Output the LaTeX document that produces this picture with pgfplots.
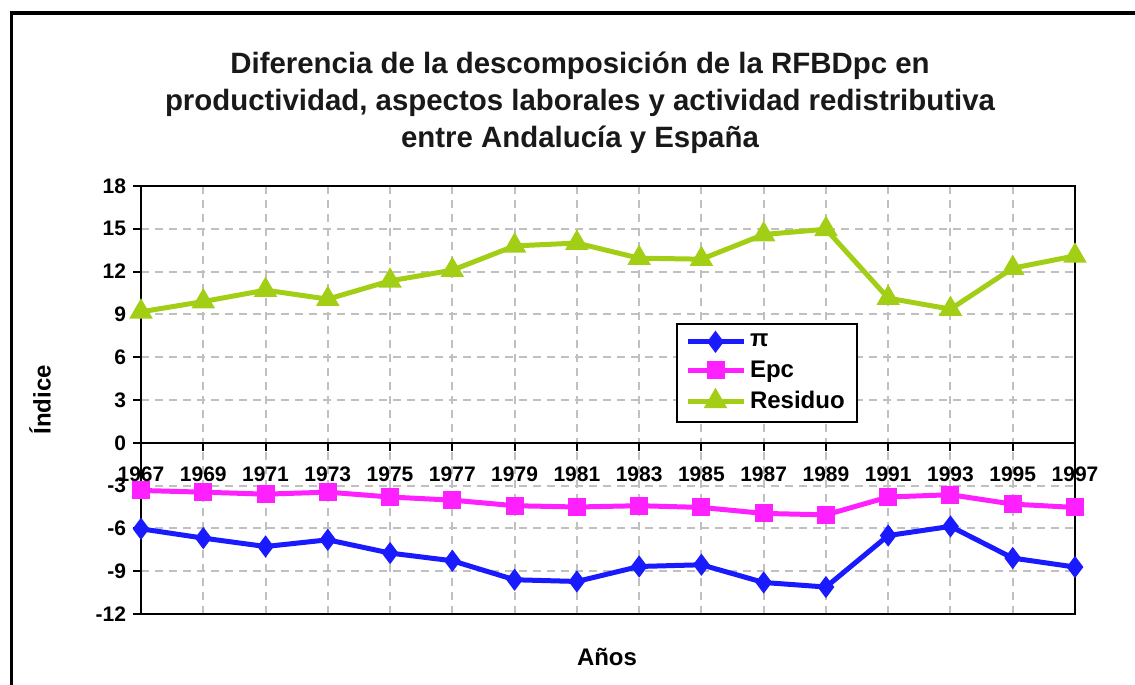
\documentclass[border=0pt]{standalone}
\usepackage{fontspec}
\setmainfont{Liberation Sans}
\usepackage{pgfplots}
\pgfplotsset{compat=1.18}
\definecolor{serA}{RGB}{26,26,255}
\definecolor{serB}{RGB}{255,32,255}
\definecolor{serC}{RGB}{162,206,22}
\definecolor{gridc}{RGB}{192,192,192}

\begin{document}
\begin{tikzpicture}[x=0.5pt,y=0.5pt]
\useasboundingbox (0,0) rectangle (1135,685);
% marco exterior (recortado a la derecha y abajo)
\draw[line width=1.75pt] (11.5,0) -- (11.5,672) -- (1135,672);

\node[font=\fontsize{14.7}{18.5}\selectfont\bfseries, align=center, text=black!90]
  at (580,582) {Diferencia de la descomposición de la RFBDpc en\\
  productividad, aspectos laborales y actividad redistributiva\\
  entre Andalucía y España};

\begin{axis}[
  at={(70.5pt,35.5pt)}, anchor=south west,
  scale only axis, width=467pt, height=214pt,
  xmin=1967, xmax=1997, ymin=-12, ymax=18,
  xtick={1967,1969,...,1997}, xticklabels={},
  major x tick style={draw=none},
  ytick={-12,-9,...,18}, ytick pos=left,
  tick align=outside, major tick length=4pt,
  y tick style={black, line width=1pt},
  grid=major, grid style={gridc, dash pattern=on 4pt off 3pt, line width=1pt},
  axis line style={line width=1pt, black},
  yticklabel style={font=\fontsize{10.5}{12}\selectfont\bfseries},
  /pgf/number format/assume math mode=true,
  every axis plot/.append style={line width=2.5pt},
  legend style={at={(0.5728,0.68)}, anchor=north west, draw=black, line width=1pt,
    font=\fontsize{12}{14}\selectfont\bfseries, inner xsep=4pt, inner ysep=3pt,
    row sep=1.5pt, cells={anchor=west}},
  legend image code/.code={
    \draw[mark repeat=2, mark phase=2] plot coordinates {(0pt,0pt) (14pt,0pt) (28pt,0pt)};},
]
\addplot[serA, mark=diamond*, mark size=3.5pt, mark options={solid}] coordinates {
  (1967,-6.03) (1969,-6.68) (1971,-7.27) (1973,-6.80) (1975,-7.73) (1977,-8.27)
  (1979,-9.60) (1981,-9.72) (1983,-8.67) (1985,-8.55) (1987,-9.79) (1989,-10.11)
  (1991,-6.50) (1993,-5.86) (1995,-8.08) (1997,-8.71)
};
\addlegendentry{π}
\addplot[serB, mark=square*, mark size=3.25pt] coordinates {
  (1967,-3.34) (1969,-3.46) (1971,-3.60) (1973,-3.46) (1975,-3.80) (1977,-4.02)
  (1979,-4.41) (1981,-4.50) (1983,-4.41) (1985,-4.53) (1987,-4.95) (1989,-5.05)
  (1991,-3.80) (1993,-3.64) (1995,-4.30) (1997,-4.53)
};
\addlegendentry{Epc}
\addplot[serC, mark=triangle*, mark size=4.3pt] coordinates {
  (1967,9.18) (1969,9.90) (1971,10.70) (1973,10.07) (1975,11.35) (1977,12.10)
  (1979,13.80) (1981,14.00) (1983,12.94) (1985,12.87) (1987,14.60) (1989,14.97)
  (1991,10.14) (1993,9.37) (1995,12.24) (1997,13.10)
};
\addlegendentry{Residuo}
\end{axis}

% eje x en y=0 con las etiquetas de los años
\begin{axis}[
  at={(70.5pt,35.5pt)}, anchor=south west,
  scale only axis, width=467pt, height=214pt,
  xmin=1967, xmax=1997, ymin=-12, ymax=18,
  axis x line=middle, axis y line=none,
  hide obscured x ticks=false,
  x axis line style={-, line width=1pt, black},
  xtick={1967,1969,...,1997}, ytick=\empty,
  tick align=outside, major tick length=4pt,
  x tick style={black, line width=1pt},
  xticklabel style={font=\fontsize{10.5}{12}\selectfont\bfseries, yshift=-4.5pt,
    /pgf/number format/1000 sep={}},
  /pgf/number format/assume math mode=true,
]
\end{axis}

\node[font=\fontsize{12}{14}\selectfont\bfseries, rotate=90] at (40,285) {Índice};
\node[font=\fontsize{12}{14}\selectfont\bfseries] at (607,28) {Años};
\end{tikzpicture}
\end{document}
